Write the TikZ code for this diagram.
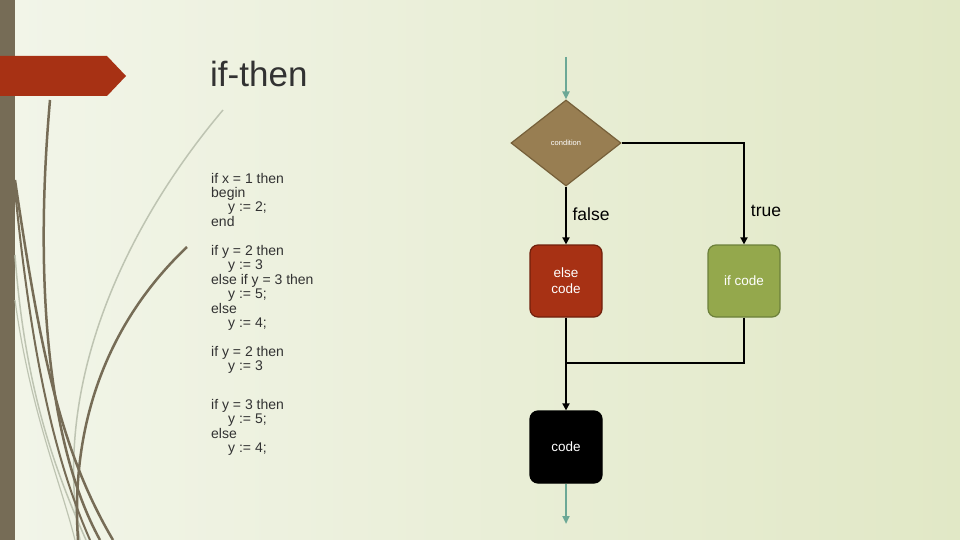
\documentclass[tikz,border=0pt]{standalone}
\usepackage{fontspec}
\setmainfont{Liberation Sans}
\usepackage{xcolor}
\usetikzlibrary{arrows.meta, shapes.geometric, positioning, calc}

\definecolor{bgleft}{RGB}{242,245,233}
\definecolor{bgright}{RGB}{225,232,198}
\definecolor{barbrown}{RGB}{118,108,86}
\definecolor{lightstem}{RGB}{190,196,178}
\definecolor{bannerred}{RGB}{167,49,20}
\definecolor{condfill}{RGB}{152,126,82}
\definecolor{conddraw}{RGB}{118,96,58}
\definecolor{elsedraw}{RGB}{112,32,12}
\definecolor{iffill}{RGB}{148,168,76}
\definecolor{ifdraw}{RGB}{108,128,58}
\definecolor{tealarrow}{RGB}{108,168,150}
\definecolor{codetext}{RGB}{50,50,50}

\begin{document}
\begin{tikzpicture}[x=1pt, y=-1pt,
  every node/.style={inner sep=0pt},
  codeline/.style={anchor=base west, font=\fontsize{14}{14.5}\selectfont, text=codetext},
  block/.style={rectangle, rounded corners=8pt, minimum width=72pt, minimum height=72pt,
                line width=1.2pt, text=white, align=center,
                font=\fontsize{13.5}{16}\selectfont},
  flow/.style={line width=2.6pt, -{Triangle[length=7pt,width=7pt]}},
  flowline/.style={line width=2.6pt},
  inout/.style={line width=2.6pt, draw=tealarrow, -{Triangle[length=8pt,width=7pt]}},
  branch/.style={font=\fontsize{17.5}{18}\selectfont}]

\useasboundingbox (0,0) rectangle (960,540);
\shade[left color=bgleft, right color=bgright] (0,0) rectangle (960,540);
\fill[barbrown] (0,0) rectangle (15,540);

% stems
\draw[lightstem, line width=1.5pt] (223,110) .. controls (130,220) and (50,380) .. (80,540);
\draw[lightstem, line width=1.5pt] (15,255) .. controls (25,390) and (55,470) .. (86,540);
\draw[lightstem, line width=1.2pt] (15,300) .. controls (30,410) and (60,480) .. (75,540);
\draw[barbrown, line width=2.5pt] (50,100) .. controls (35,270) and (45,440) .. (100,540);
\draw[barbrown, line width=2.5pt] (15,180) .. controls (40,350) and (60,450) .. (113,540);
\draw[barbrown, line width=2pt] (15,190) .. controls (32,360) and (55,460) .. (90,540);
\draw[barbrown, line width=2.5pt] (187,247) .. controls (110,320) and (70,420) .. (78,540);

% banner
\fill[bannerred] (0,56) -- (107,56) -- (126,76) -- (107,96) -- (0,96) -- cycle;
\node[anchor=base west, font=\fontsize{35}{36}\selectfont, text=codetext] (title) at (210,87) {if-then};

\foreach \y/\ind/\txt [count=\k] in {
  183/0/{if x = 1 then}, 197/0/{begin}, 211/17/{y := 2;}, 226/0/{end},
  255/0/{if y = 2 then}, 269/17/{y := 3}, 284/0/{else if y = 3 then},
  298/17/{y := 5;}, 313/0/{else}, 327/17/{y := 4;},
  356/0/{if y = 2 then}, 370/17/{y := 3},
  409/0/{if y = 3 then}, 423/17/{y := 5;}, 438/0/{else}, 452/17/{y := 4;}%
}{
  \node[codeline] (line\k) at ({211+\ind},\y) {\txt};
}

\node[diamond, minimum width=110pt, minimum height=86pt, fill=condfill, draw=conddraw,
      line width=1.2pt, text=white, font=\fontsize{7.5}{8}\selectfont] (cond) at (566,143) {condition};
\node[block, fill=bannerred, draw=elsedraw] (elsebox) at (566,281) {else\\code};
\node[block, fill=iffill, draw=ifdraw] (ifbox) at (744,281) {if code};
\node[block, fill=black, draw=black] (codebox) at (566,447) {code};

\coordinate (in) at (566,57);
\coordinate (out) at (566,524);
\coordinate (join) at (566,363);

\draw[inout] (in) -- (cond.north);
\draw[flow] (cond.south) -- (elsebox.north);
\draw[flow] (cond.east) -| (ifbox.north);
\draw[flowline] (ifbox.south) |- (join);
\draw[flow] (elsebox.south) -- (codebox.north);
\draw[inout] (codebox.south) -- (out);

\node[branch] (falselbl) at (591,214) {false};
\node[branch] (truelbl) at (766,211) {true};
\end{tikzpicture}
\end{document}
